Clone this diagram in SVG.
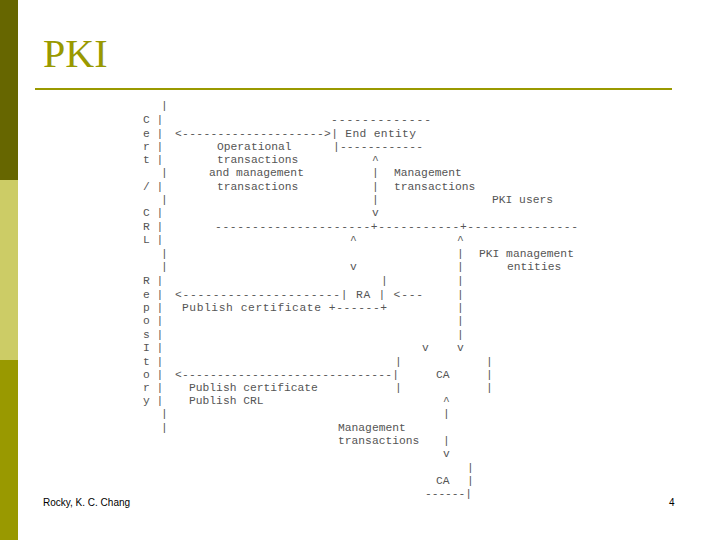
<svg xmlns="http://www.w3.org/2000/svg" width="720" height="540" viewBox="0 0 720 540">
<style>
.m{font-family:"Liberation Mono",monospace;font-size:11.3px;fill:#555;white-space:pre}
.f{font-family:"Liberation Sans",Arial,sans-serif;font-size:10px;fill:#000}
</style>
<rect width="720" height="540" fill="#fff"/>
<g id="sidebar">
<rect x="0" y="0" width="18" height="180" fill="#666600"/>
<rect x="0" y="180" width="18" height="180" fill="#cccc66"/>
<rect x="0" y="360" width="18" height="180" fill="#999900"/>
</g>
<g id="title">
<text x="43" y="67" font-family="Liberation Serif,serif" font-size="40" fill="#999900">PKI</text>
<line x1="35" y1="89" x2="672" y2="89" stroke="#999900" stroke-width="2"/>
</g>
<g id="diagram" class="m">
<text x="161" y="109">|</text>
<text x="143" y="123">C |</text><text x="331" y="123" textLength="100">-------------</text>
<text x="143" y="137">e |</text><text x="175" y="137" textLength="241">&lt;--------------------&gt;| End entity</text>
<text x="143" y="150">r |</text><text x="217" y="150">Operational</text><text x="333" y="150" textLength="90">|------------</text>
<text x="143" y="163">t |</text><text x="217" y="163">transactions</text><text x="372" y="163">^</text>
<text x="161" y="176">|</text><text x="209" y="176">and management</text><text x="372" y="176">|</text><text x="394" y="176">Management</text>
<text x="143" y="190">/ |</text><text x="217" y="190">transactions</text><text x="372" y="190">|</text><text x="394" y="190">transactions</text>
<text x="161" y="203">|</text><text x="372" y="203">|</text><text x="492" y="203">PKI users</text>
<text x="143" y="216">C |</text><text x="372" y="216">v</text>
<text x="143" y="230">R |</text><text x="215" y="230" textLength="363">---------------------+-----------+---------------</text>
<text x="143" y="243">L |</text><text x="350" y="243">^</text><text x="457" y="243">^</text>
<text x="161" y="257">|</text><text x="457" y="257">|</text><text x="479" y="257">PKI management</text>
<text x="161" y="270">|</text><text x="350" y="270">v</text><text x="457" y="270">|</text><text x="507" y="270">entities</text>
<text x="143" y="284">R |</text><text x="381" y="284">|</text><text x="457" y="284">|</text>
<text x="143" y="298">e |</text><text x="175" y="298" textLength="248">&lt;---------------------| RA   | &lt;---</text><text x="457" y="298">|</text>
<text x="143" y="311">p |</text><text x="182" y="311" textLength="205">Publish certificate  +------+</text><text x="457" y="311">|</text>
<text x="143" y="324">o |</text><text x="457" y="324">|</text>
<text x="143" y="338">s |</text><text x="457" y="338">|</text>
<text x="143" y="351">I |</text><text x="422" y="351">v</text><text x="457" y="351">v</text>
<text x="143" y="365">t |</text><text x="395" y="365">|</text><text x="486" y="365">|</text>
<text x="143" y="378">o |</text><text x="175" y="378" textLength="224">&lt;------------------------------|</text><text x="436" y="378">CA</text><text x="486" y="378">|</text>
<text x="143" y="391">r |</text><text x="189" y="391">Publish certificate</text><text x="395" y="391">|</text><text x="486" y="391">|</text>
<text x="143" y="404">y |</text><text x="189" y="404">Publish CRL</text><text x="443" y="404">^</text>
<text x="161" y="417">|</text><text x="443" y="417">|</text>
<text x="161" y="431">|</text><text x="338" y="431">Management</text>
<text x="338" y="444">transactions</text><text x="443" y="444">|</text>
<text x="443" y="457">v</text>
<text x="467" y="471">|</text>
<text x="436" y="484">CA</text><text x="467" y="484">|</text>
<text x="425" y="497" textLength="47">------|</text>
</g>
<g id="footer" class="f">
<text x="43" y="506">Rocky, K. C. Chang</text>
<text x="669" y="506">4</text>
</g>
</svg>
